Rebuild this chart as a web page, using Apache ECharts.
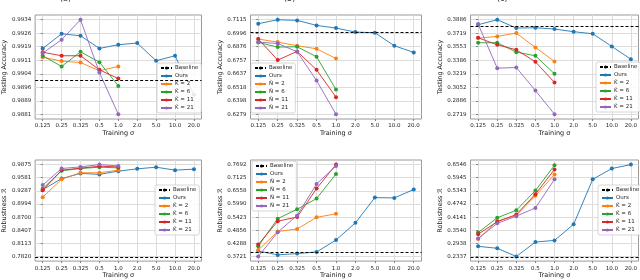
<!DOCTYPE html>
<html><head><meta charset="utf-8">
<script src="https://cdn.jsdelivr.net/npm/echarts@6/dist/echarts.min.js"></script>
<style>html,body{margin:0;padding:0;background:#fff}#c{width:640px;height:280px}</style>
</head><body><div id="c"></div>
<script>
const categories = ['0.125','0.25','0.325','0.5','1.0','2.0','5.0','10.0','20.0'];

// (a) top-left: Testing Accuracy
const p1Ours = [0.99179,0.99261,0.99250,0.99179,0.99200,0.99209,0.99110,0.99138,0.98919];
const p1K2   = [0.99130,0.99108,0.99100,0.99054,0.99078];
const p1K6   = [0.99138,0.99078,0.99160,0.99102,0.98969];
const p1K11  = [0.99158,0.99138,0.99138,0.99059,0.99010];
const p1K21  = [0.99153,0.99228,0.99340,0.99044,0.98810];
const p1Baseline = 0.9914;
const p1Ticks = [0.9881,0.9889,0.9896,0.9904,0.9911,0.9919,0.9926,0.9934];

// (b) top-middle: Testing Accuracy
const p2Ours = [0.7080,0.7115,0.7109,0.7065,0.7041,0.7006,0.7000,0.6885,0.6826];
const p2N2   = [0.6944,0.6917,0.6885,0.6858,0.6772];
const p2N6   = [0.6914,0.6873,0.6876,0.6787,0.6498];
const p2N11  = [0.6944,0.6758,0.6835,0.6672,0.6430];
const p2N21  = [0.6917,0.6905,0.6832,0.6577,0.6279];
const p2Baseline = 0.6993;
const p2Ticks = [0.6279,0.6398,0.6518,0.6637,0.6757,0.6876,0.6996,0.7115];

// (c) top-right: Testing Accuracy
const p3Ours = [0.3824,0.3886,0.3783,0.3787,0.3771,0.3738,0.3713,0.3556,0.3399];
const p3K2   = [0.3659,0.3680,0.3721,0.3544,0.3371];
const p3K6   = [0.3602,0.3602,0.3486,0.3441,0.3218];
const p3K11  = [0.3663,0.3577,0.3515,0.3367,0.3111];
const p3K21  = [0.3832,0.3288,0.3296,0.3012,0.2719];
const p3Baseline = 0.3816;
const p3Ticks = [0.2719,0.2886,0.3052,0.3219,0.3386,0.3553,0.3719,0.3886];

// bottom-left: Robustness
const p4Ours = [0.9314,0.9562,0.9678,0.9656,0.9729,0.9780,0.9817,0.9751,0.9773];
const p4K2   = [0.9146,0.9547,0.9693,0.9693,0.9751];
const p4K6   = [0.9336,0.9737,0.9788,0.9817,0.9802];
const p4K11  = [0.9299,0.9751,0.9795,0.9839,0.9824];
const p4K21  = [0.9416,0.9788,0.9824,0.9875,0.9846];
const p4Baseline = 0.7820;
const p4Ticks = [0.7820,0.8113,0.8407,0.8700,0.8994,0.9287,0.9581,0.9875];

// bottom-middle: Robustness
const p5Ours = [0.3958,0.3791,0.3847,0.3917,0.4434,0.5175,0.6266,0.6252,0.6615];
const p5N2   = [0.4000,0.4798,0.4910,0.5413,0.5567];
const p5N6   = [0.4168,0.5357,0.5762,0.6224,0.7286];
const p5N11  = [0.4238,0.5245,0.5427,0.6657,0.7692];
const p5N21  = [0.3721,0.4770,0.5497,0.6853,0.7636];
const p5Baseline = 0.3875;
const p5Ticks = [0.3721,0.4288,0.4856,0.5423,0.5990,0.6558,0.7125,0.7692];

// bottom-right: Robustness
const p6Ours = [0.2803,0.2713,0.2337,0.3000,0.3074,0.3810,0.5870,0.6366,0.6546];
const p6K2   = [0.3134,0.3960,0.4216,0.5118,0.6095];
const p6K6   = [0.3434,0.4111,0.4457,0.5358,0.6516];
const p6K11  = [0.3359,0.3930,0.4261,0.5193,0.6321];
const p6K21  = [0.3164,0.3855,0.4186,0.4562,0.5870];
const p6Baseline = 0.2345;
const p6Ticks = [0.2337,0.2938,0.3540,0.4141,0.4742,0.5343,0.5945,0.6546];

const subLevels = ['2','6','11','21'];
const colors = ['#1f77b4','#ff7f0e','#2ca02c','#d62728','#9467bd'];
const FONT = 'DejaVu Sans';

const panels = [
  {ours:p1Ours, subs:[p1K2,p1K6,p1K11,p1K21], base:p1Baseline, ticks:p1Ticks, hat:'K', yName:'Testing Accuracy',
   grid:{left:30.5, top:15, width:171, height:104}, legend:{left:157, top:63}, nameGap:23},
  {ours:p2Ours, subs:[p2N2,p2N6,p2N11,p2N21], base:p2Baseline, ticks:p2Ticks, hat:'N', yName:'Testing Accuracy',
   grid:{left:250.5, top:15, width:171, height:104}, legend:{left:251, top:63}, nameGap:25},
  {ours:p3Ours, subs:[p3K2,p3K6,p3K11,p3K21], base:p3Baseline, ticks:p3Ticks, hat:'K', yName:'Testing Accuracy',
   grid:{left:470.5, top:15, width:171, height:104}, legend:{left:596, top:62}, nameGap:25},
  {ours:p4Ours, subs:[p4K2,p4K6,p4K11,p4K21], base:p4Baseline, ticks:p4Ticks, hat:'K', yName:'Robustness \u211B',
   grid:{left:30.5, top:160, width:171, height:103}, legend:{left:155, top:185}, nameGap:24},
  {ours:p5Ours, subs:[p5N2,p5N6,p5N11,p5N21], base:p5Baseline, ticks:p5Ticks, hat:'N', yName:'Robustness \u211B',
   grid:{left:250.5, top:160, width:171, height:103}, legend:{left:252, top:161}, nameGap:25},
  {ours:p6Ours, subs:[p6K2,p6K6,p6K11,p6K21], base:p6Baseline, ticks:p6Ticks, hat:'K', yName:'Robustness \u211B',
   grid:{left:470.5, top:160, width:171, height:103}, legend:{left:598, top:185}, nameGap:25}
];

function linspace(a, b, n) { const r = []; for (let i = 0; i < n; i++) r.push(a + (b - a) * i / (n - 1)); return r; }
const catIdx = categories.map((_, i) => i);

const grids = [], xAxes = [], yAxes = [], series = [], legends = [];
panels.forEach((p, k) => {
  grids.push(Object.assign({show:true, borderColor:'#9a9a9a', borderWidth:1, backgroundColor:'transparent'}, p.grid));
  xAxes.push({
    type:'value', gridIndex:k, min:-0.4, max:8.4,
    name:'Training \u03C3', nameLocation:'middle', nameGap:10,
    nameTextStyle:{fontFamily:FONT, fontSize:6.5, color:'#222'},
    axisLine:{show:false},
    axisTick:{show:true, inside:false, length:2, lineStyle:{color:'#666', width:0.8}, customValues:catIdx},
    axisLabel:{customValues:catIdx, margin:4, fontFamily:FONT, fontSize:5.5, color:'#222',
               formatter:v => categories[Math.round(v)]},
    splitLine:{show:true, lineStyle:{color:'#dcdcdc', width:1}}
  });
  const t0 = p.ticks[0], t1 = p.ticks[p.ticks.length - 1], rng = t1 - t0;
  const tv = linspace(t0, t1, p.ticks.length);
  yAxes.push({
    type:'value', gridIndex:k, min:t0 - 0.05 * rng, max:t1 + 0.05 * rng, scale:true,
    name:p.yName, nameLocation:'middle', nameGap:p.nameGap,
    nameTextStyle:{fontFamily:FONT, fontSize:6.5, color:'#222'},
    axisLine:{show:false},
    axisTick:{show:true, length:2, lineStyle:{color:'#666', width:0.8}, customValues:tv},
    axisLabel:{customValues:tv, margin:4, fontFamily:FONT, fontSize:5.5, color:'#222',
               formatter:v => { let bi = 0, bd = 1e9; tv.forEach((t, i) => { const d = Math.abs(t - v); if (d < bd) { bd = d; bi = i; } }); return p.ticks[bi].toFixed(4); }},
    splitLine:{show:true, lineStyle:{color:'#dcdcdc', width:1}}
  });
  const names = ['Baseline', 'Ours'].concat(subLevels.map(s => p.hat + '\u0302 = ' + s));
  series.push({
    name:'Baseline', type:'line', xAxisIndex:k, yAxisIndex:k, data:[], symbol:'none',
    lineStyle:{color:'#000', type:[3,2], width:1.2}, itemStyle:{color:'#000'},
    markLine:{silent:true, symbol:'none', label:{show:false},
              lineStyle:{color:'#000', type:[3,2], width:1.2}, data:[{yAxis:p.base}]}
  });
  const allLines = [p.ours].concat(p.subs);
  allLines.forEach((arr, j) => {
    series.push({
      name:names[j + 1], type:'line', xAxisIndex:k, yAxisIndex:k,
      data:arr.map((v, i) => [i, v]),
      symbol:'circle', symbolSize:4, showSymbol:true, showAllSymbol:true,
      lineStyle:{color:colors[j], width:0.9}, itemStyle:{color:colors[j], borderWidth:0},
      z:3 + j
    });
  });
  legends.push({
    orient:'vertical', left:p.legend.left, top:p.legend.top, data:names,
    itemWidth:11, itemHeight:4, itemGap:2, padding:[2,3,2,3],
    backgroundColor:'rgba(255,255,255,0.85)', borderColor:'#cccccc', borderWidth:0.8, borderRadius:2,
    textStyle:{fontFamily:FONT, fontSize:5.5, color:'#222', padding:[0,0,0,-2]},
    selectedMode:false
  });
});

const titles = [
  {text:'(a)', left:60, top:-5},
  {text:'(b)', left:284, top:-5},
  {text:'(c)', left:497, top:-5}
].map(t => Object.assign(t, {padding:0, textStyle:{fontFamily:FONT, fontSize:8, fontWeight:'normal', color:'#333'}}));

const chart = echarts.init(document.getElementById('c'), null, {renderer:'canvas'});
chart.setOption({
  animation:false, backgroundColor:'#fff', color:colors,
  title:titles, grid:grids, xAxis:xAxes, yAxis:yAxes, legend:legends, series:series
});
</script></body></html>
